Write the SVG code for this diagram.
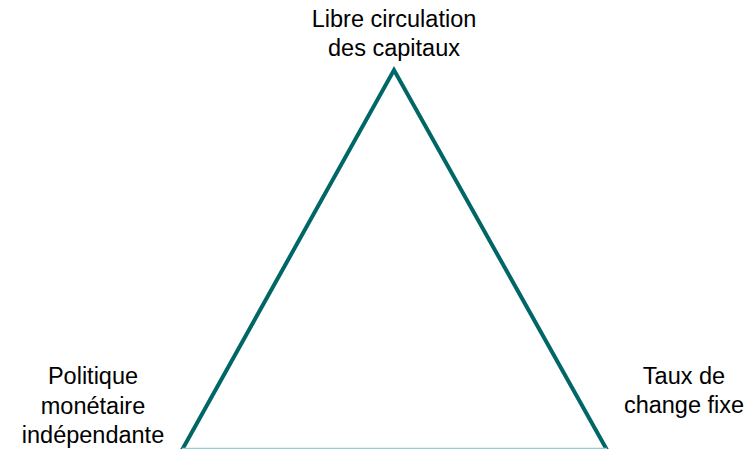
<svg xmlns="http://www.w3.org/2000/svg" width="756" height="449" viewBox="0 0 756 449">
<style>
text{font-family:"Liberation Sans",Arial,sans-serif;font-size:23.5px;fill:#000;text-anchor:middle}
.edge{stroke:#006666;stroke-width:4;fill:none;stroke-linejoin:miter;stroke-miterlimit:10}
</style>
<rect width="756" height="449" fill="#fff"/>
<g id="connectors">
<polyline class="edge" points="182,450 394,70 607,450"/>
<line x1="182" y1="448.5" x2="607" y2="448.5" stroke="#99cccc" stroke-width="1.5"/>
</g>
<g id="node-top">
<text x="394" y="27">Libre circulation</text>
<text x="394" y="56">des capitaux</text>
</g>
<g id="node-left">
<text x="93" y="384">Politique</text>
<text x="93" y="414">monétaire</text>
<text x="93" y="443">indépendante</text>
</g>
<g id="node-right">
<text x="684" y="384">Taux de</text>
<text x="684" y="413">change fixe</text>
</g>
</svg>
